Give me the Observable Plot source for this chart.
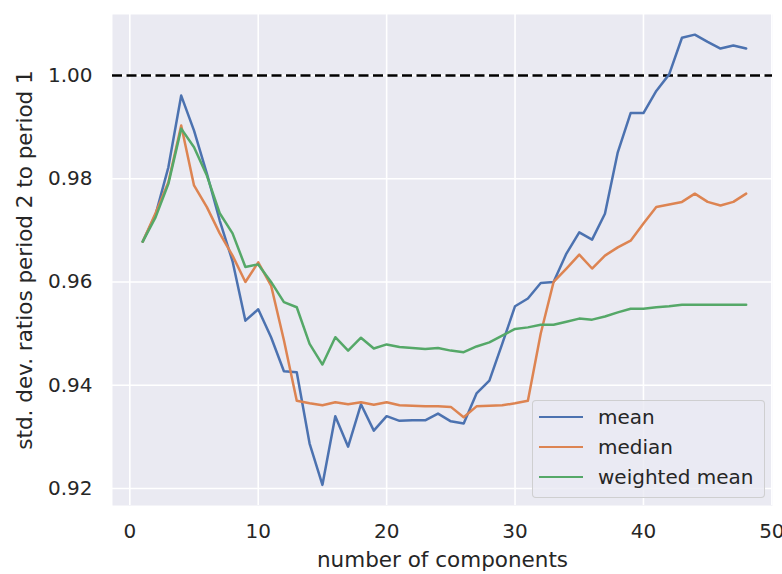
<!DOCTYPE html>
<html>
<head>
<meta charset="utf-8">
<script src="https://cdn.jsdelivr.net/npm/d3@7"></script>
<script src="https://cdn.jsdelivr.net/npm/@observablehq/plot@0.6"></script>
<style>
  body { margin: 0; background: white; }
  #wrap { position: relative; width: 782px; height: 574px; font-family: "DejaVu Sans", sans-serif; }
  #legend { position: absolute; left: 532px; top: 400px; width: 231px; height: 96px;
    background: rgba(234,234,242,0.8); border: 1px solid rgba(204,204,204,0.9); border-radius: 4px; }
  .item { position: absolute; left: 6px; height: 30px; display: flex; align-items: center; font-size: 20px; color: #262626; }
  .swatch { width: 44px; height: 2.5px; margin-right: 15px; }
</style>
</head>
<body>
<div id="wrap"></div>
<script>
const components = d3.range(1, 49);
const meanVals = [0.9678,0.9730,0.9822,0.9961,0.9893,0.9810,0.9719,0.9640,0.9525,0.9547,
  0.9493,0.9427,0.9425,0.9287,0.9207,0.9340,0.9281,0.9363,0.9312,0.9340,
  0.9331,0.9332,0.9332,0.9345,0.9330,0.9326,0.9384,0.9409,0.9480,0.9553,
  0.9568,0.9598,0.9600,0.9655,0.9696,0.9682,0.9732,0.9851,0.9927,0.9927,
  0.9970,1.0002,1.0073,1.0079,1.0065,1.0052,1.0058,1.0052];
const medianVals = [0.9678,0.9733,0.9793,0.9903,0.9787,0.9745,0.9694,0.9651,0.9600,0.9638,
  0.9593,0.9487,0.9370,0.9365,0.9361,0.9367,0.9363,0.9367,0.9362,0.9367,
  0.9361,0.9360,0.9359,0.9359,0.9358,0.9338,0.9359,0.9360,0.9361,0.9365,
  0.9370,0.9500,0.9600,0.9626,0.9653,0.9626,0.9651,0.9667,0.9680,0.9713,
  0.9745,0.9750,0.9755,0.9771,0.9755,0.9748,0.9755,0.9771];
const weightedVals = [0.9678,0.9725,0.9790,0.9897,0.9861,0.9806,0.9733,0.9694,0.9629,0.9634,
  0.9600,0.9561,0.9551,0.9480,0.9440,0.9493,0.9467,0.9492,0.9471,0.9479,
  0.9474,0.9472,0.9470,0.9472,0.9467,0.9464,0.9475,0.9483,0.9496,0.9509,
  0.9512,0.9517,0.9517,0.9523,0.9529,0.9527,0.9533,0.9541,0.9548,0.9548,
  0.9551,0.9553,0.9556,0.9556,0.9556,0.9556,0.9556,0.9556];
const seriesNames = ["mean", "median", "weighted mean"];
const seriesColors = ["#4c72b0", "#dd8452", "#55a868"];
const xTicks = [0, 10, 20, 30, 40, 50];
const yTicks = [0.92, 0.94, 0.96, 0.98, 1.00];
const refLine = [1.0];
const xLabel = "number of components";
const yLabel = "std. dev. ratios period 2 to period 1";

const allSeries = [meanVals, medianVals, weightedVals];
const rows = allSeries.flatMap((vals, i) => vals.map((v, j) => ({x: components[j], y: v, s: seriesNames[i]})));

const chart = Plot.plot({
  width: 782, height: 574,
  marginLeft: 112, marginRight: 10, marginTop: 14, marginBottom: 69,
  style: {fontFamily: "DejaVu Sans", fontSize: "20px", background: "white", overflow: "visible", color: "#262626"},
  x: {domain: [-1.35, 50.05], label: null},
  y: {domain: [0.9167, 1.0118], label: null},
  color: {domain: seriesNames, range: seriesColors},
  marks: [
    Plot.frame({fill: "#eaeaf2", stroke: null}),
    Plot.gridX(xTicks, {stroke: "white", strokeOpacity: 1, strokeWidth: 1.6}),
    Plot.gridY(yTicks, {stroke: "white", strokeOpacity: 1, strokeWidth: 1.6}),
    Plot.axisX(xTicks, {tickSize: 0, tickPadding: 18, fontSize: 20, label: null}),
    Plot.axisY(yTicks, {tickSize: 0, tickPadding: 20, fontSize: 20, tickFormat: d3.format(".2f"), label: null}),
    Plot.text([xLabel], {frameAnchor: "bottom", dy: 55, fontSize: 21.5, fill: "#262626", lineAnchor: "middle", textAnchor: "middle"}),
    Plot.text([yLabel], {frameAnchor: "left", dx: -87, rotate: -90, fontSize: 21.5, fill: "#262626", lineAnchor: "middle", textAnchor: "middle"}),
    Plot.ruleY(refLine, {stroke: "black", strokeWidth: 2.5, strokeDasharray: "10,4.5"}),
    Plot.line(rows, {x: "x", y: "y", z: "s", stroke: "s", strokeWidth: 2.5})
  ]
});
const wrap = document.getElementById("wrap");
wrap.appendChild(chart);

const legend = document.createElement("div");
legend.id = "legend";
seriesNames.forEach((name, i) => {
  const item = document.createElement("div");
  item.className = "item";
  item.style.top = (1 + i * 30) + "px";
  const sw = document.createElement("div");
  sw.className = "swatch";
  sw.style.background = seriesColors[i];
  const t = document.createElement("span");
  t.textContent = name;
  item.appendChild(sw);
  item.appendChild(t);
  legend.appendChild(item);
});
wrap.appendChild(legend);
</script>
</body>
</html>
